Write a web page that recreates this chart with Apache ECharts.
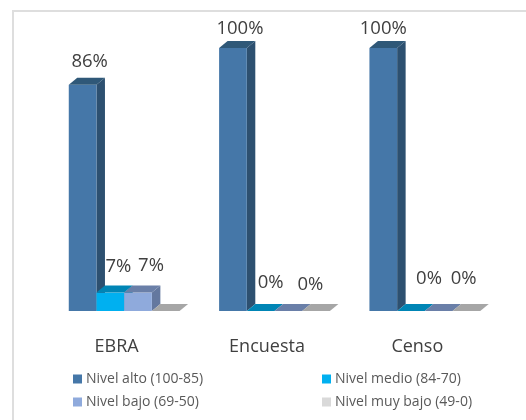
<!DOCTYPE html>
<html><head><meta charset="utf-8">
<style>html,body{margin:0;padding:0;background:#fff}#c{width:526px;height:420px}</style>
<script src="https://cdn.jsdelivr.net/npm/echarts@6/dist/echarts.min.js"></script>
</head><body><div id="c"></div>
<script>
const categories = ['EBRA', 'Encuesta', 'Censo'];
const seriesNames = ['Nivel alto (100-85)', 'Nivel medio (84-70)', 'Nivel bajo (69-50)', 'Nivel muy bajo (49-0)'];
const nivelAlto = [86, 100, 100];
const nivelMedio = [7, 0, 0];
const nivelBajo = [7, 0, 0];
const nivelMuyBajo = [0, 0, 0];
const seriesValues = [nivelAlto, nivelMedio, nivelBajo, nivelMuyBajo];
const front = ['#4577a8', '#00b0f0', '#8faadc', '#d9d9d9'];
const topFace = ['#2f5878', '#0085b5', '#6a7fa8', '#a6a6a6'];
const sideFace = ['#2d5070', '#007fae', '#64789f', '#a6a6a6'];
// label nudges (px) per series then category
const labelDx = [[7, 7, 0], [8, 10, 18], [13, 22, 25], [0, 0, 0]];
const labelRise = [[16, 12, 12], [19, 21, 25], [20, 19, 25], [0, 0, 0]];
const BAR = 27.7, DX = 8.5, DY = 7, SHIFT = 7.5;

function renderer(si) {
  return function (params, api) {
    const idx = api.value(0), v = api.value(1);
    const base = api.coord([idx, 0]);
    const top = api.coord([idx, v]);
    const x0 = base[0] + SHIFT - 2 * BAR + si * BAR, x1 = x0 + BAR;
    const yb = base[1], yt = top[1];
    const children = [];
    if (v > 0) {
      children.push({ type: 'polygon', shape: { points: [[x1, yb], [x1 + DX, yb - DY], [x1 + DX, yt - DY], [x1, yt]] }, style: { fill: sideFace[si] } });
      children.push({ type: 'rect', shape: { x: x0, y: yt, width: BAR, height: yb - yt }, style: { fill: front[si] } });
    }
    children.push({ type: 'polygon', shape: { points: [[x0, yt], [x1, yt], [x1 + DX, yt - DY], [x0 + DX, yt - DY]] }, style: { fill: topFace[si] } });
    if (si < 3) {
      children.push({ type: 'text', z2: 10, style: {
        text: v + '%', x: x0 + BAR / 2 + labelDx[si][idx], y: yt - DY - labelRise[si][idx],
        align: 'center', verticalAlign: 'middle', fill: '#404040', fontSize: 18.5, fontFamily: 'Open Sans' } });
    }
    return { type: 'group', children };
  };
}

const chart = echarts.init(document.getElementById('c'), null, { renderer: 'canvas' });
chart.setOption({
  animation: false,
  backgroundColor: '#fff',
  graphic: [
    { type: 'line', shape: { x1: 12, y1: 11, x2: 526, y2: 11 }, style: { stroke: '#dedede', lineWidth: 2 }, silent: true },
    { type: 'line', shape: { x1: 13, y1: 10, x2: 13, y2: 420 }, style: { stroke: '#dedede', lineWidth: 2 }, silent: true }
  ],
  grid: { left: 41.5, width: 451, top: 48, height: 263 },
  xAxis: { type: 'category', data: categories, axisLine: { show: false }, axisTick: { show: false },
    axisLabel: { color: '#404040', fontSize: 18, fontFamily: 'Open Sans', margin: 27 } },
  yAxis: { type: 'value', min: 0, max: 100, show: false },
  legend: [
    { name: 0, left: 73, top: 372 }, { name: 1, left: 322, top: 372 },
    { name: 2, left: 73, top: 395 }, { name: 3, left: 322, top: 395 }
  ].map(l => ({
    show: true, data: [{ name: seriesNames[l.name], icon: 'rect', itemStyle: { color: front[l.name] } }],
    left: l.left, top: l.top, padding: 0, itemWidth: 9, itemHeight: 9, itemGap: 0, selectedMode: false,
    textStyle: { color: '#595959', fontSize: 14, fontFamily: 'Open Sans', padding: [0, 0, 0, -1] }
  })),
  series: seriesNames.map((name, si) => ({
    type: 'custom', name, renderItem: renderer(si), coordinateSystem: 'cartesian2d',
    encode: { x: 0, y: 1 }, data: seriesValues[si].map((v, i) => [i, v]), clip: false
  }))
});
</script></body></html>
